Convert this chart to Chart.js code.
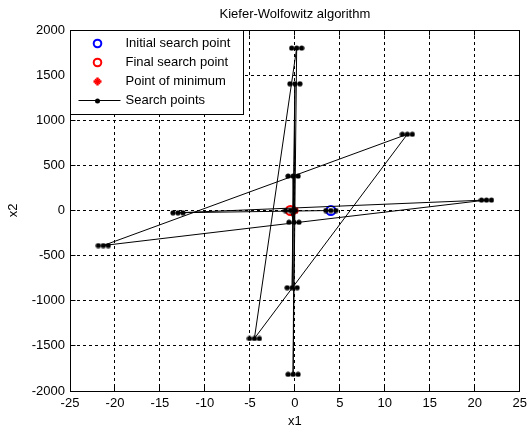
<!DOCTYPE html>
<html>
<head>
<meta charset="utf-8">
<title>Kiefer-Wolfowitz algorithm</title>
<script src="https://cdn.jsdelivr.net/npm/chart.js@4.4.1/dist/chart.umd.min.js"></script>
<style>
  body { margin: 0; background: #fff; }
</style>
</head>
<body>
<canvas id="myChart" width="532" height="426"></canvas>
<script>
'use strict';

// search path, one entry per iteration (x1, x2)
let searchX = [4.0, -13.0, 21.3, -21.3, 12.5, -4.5, 0.2, -0.2, 0.0, -0.3, -0.2, -0.1, -0.5];
let searchY = [0, -25, 116, -388, 845, -1418, 1800, -1815, 1405, -855, 382, -130, 0];
let initialPoint = [4.0, 0];
let finalPoint = [-0.5, 0];
let minimumPoint = [0, 0];
let xTicks = [-25, -20, -15, -10, -5, 0, 5, 10, 15, 20, 25];
let yTicks = [-2000, -1500, -1000, -500, 0, 500, 1000, 1500, 2000];
let legendNames = ['Initial search point', 'Final search point', 'Point of minimum', 'Search points'];
let titleText = 'Kiefer-Wolfowitz algorithm';

let fontFamily = '"Liberation Sans", Arial, sans-serif';
Chart.defaults.font.family = fontFamily;
Chart.defaults.font.size = 13;
Chart.defaults.color = '#000';

// three dots per search point, like the original plot
function makeDotsMarker() {
  let c = document.createElement('canvas');
  c.width = 16;
  c.height = 6;
  let g = c.getContext('2d');
  g.fillStyle = '#000';
  [3, 8, 13].forEach(function(cx) {
    g.beginPath();
    g.arc(cx, 3, 2.6, 0, Math.PI * 2);
    g.fill();
  });
  return c;
}
let dotsMarker = makeDotsMarker();

function px(v) {
  return Math.floor(v) + 0.5;
}

// title, box, inner ticks and the legend drawn matlab style
let matlabFrame = {
  id: 'matlabFrame',
  afterDatasetsDraw(chart) {
    let ctx = chart.ctx;
    let a = chart.chartArea;
    let xs = chart.scales.x;
    let ys = chart.scales.y;
    let l = px(a.left), r = px(a.right), t = px(a.top), b = px(a.bottom);

    ctx.save();
    ctx.strokeStyle = '#000';
    ctx.lineWidth = 1;
    ctx.setLineDash([]);

    // inner ticks
    ctx.beginPath();
    xs.ticks.forEach(function(tk) {
      let x = px(xs.getPixelForValue(tk.value));
      ctx.moveTo(x, b); ctx.lineTo(x, b - 5);
      ctx.moveTo(x, t); ctx.lineTo(x, t + 5);
    });
    ys.ticks.forEach(function(tk) {
      let y = px(ys.getPixelForValue(tk.value));
      ctx.moveTo(l, y); ctx.lineTo(l + 5, y);
      ctx.moveTo(r, y); ctx.lineTo(r - 5, y);
    });
    ctx.stroke();

    // box
    ctx.strokeRect(l, t, r - l, b - t);

    // legend
    let lw = 173, lh = 84;
    ctx.fillStyle = '#fff';
    ctx.fillRect(l, t, lw, lh);
    ctx.strokeRect(l, t, lw, lh);

    let mx = l + 27;
    let rows = [t + 13, t + 32, t + 51, t + 70];
    ctx.lineWidth = 2;
    ctx.strokeStyle = '#0000ff';
    ctx.beginPath();
    ctx.arc(mx, rows[0], 3.8, 0, Math.PI * 2);
    ctx.stroke();
    ctx.strokeStyle = '#ff0000';
    ctx.beginPath();
    ctx.arc(mx, rows[1], 3.8, 0, Math.PI * 2);
    ctx.stroke();
    ctx.lineWidth = 2.5;
    ctx.beginPath();
    ctx.moveTo(mx - 4, rows[2]); ctx.lineTo(mx + 4, rows[2]);
    ctx.moveTo(mx, rows[2] - 4); ctx.lineTo(mx, rows[2] + 4);
    ctx.stroke();
    ctx.lineWidth = 1.5;
    ctx.beginPath();
    ctx.moveTo(mx - 2.5, rows[2] - 2.5); ctx.lineTo(mx + 2.5, rows[2] + 2.5);
    ctx.moveTo(mx - 2.5, rows[2] + 2.5); ctx.lineTo(mx + 2.5, rows[2] - 2.5);
    ctx.stroke();
    ctx.lineWidth = 1;
    ctx.strokeStyle = '#000';
    ctx.beginPath();
    ctx.moveTo(l + 8, px(rows[3])); ctx.lineTo(l + 50, px(rows[3]));
    ctx.stroke();
    ctx.fillStyle = '#000';
    ctx.beginPath();
    ctx.arc(mx, rows[3] + 0.5, 2.5, 0, Math.PI * 2);
    ctx.fill();

    ctx.font = '13px ' + fontFamily;
    ctx.textAlign = 'left';
    ctx.textBaseline = 'middle';
    legendNames.forEach(function(name, i) {
      ctx.fillText(name, l + 55, rows[i]);
    });

    // title
    ctx.textAlign = 'center';
    ctx.textBaseline = 'alphabetic';
    ctx.fillText(titleText, (a.left + a.right) / 2, a.top - 12);
    ctx.restore();
  }
};

let searchData = searchX.map(function(x, i) {
  return {x: x, y: searchY[i]};
});

function plainLabel(value) {
  return String(value);
}

let ctx = document.getElementById('myChart');
let myChart = new Chart(ctx, {
  type: 'scatter',
  data: {
    datasets: [{
      label: legendNames[3],
      data: searchData,
      showLine: true,
      borderColor: '#000',
      borderWidth: 1,
      pointStyle: dotsMarker,
      pointRadius: 3,
      tension: 0
    },
    {
      label: legendNames[0],
      data: [{x: initialPoint[0], y: initialPoint[1]}],
      pointStyle: 'circle',
      pointRadius: 4.5,
      borderWidth: 2,
      borderColor: '#0000ff',
      backgroundColor: 'rgba(0,0,0,0)'
    },
    {
      label: legendNames[1],
      data: [{x: finalPoint[0], y: finalPoint[1]}],
      pointStyle: 'circle',
      pointRadius: 4.5,
      borderWidth: 2,
      borderColor: '#ff0000',
      backgroundColor: 'rgba(0,0,0,0)'
    },
    {
      label: legendNames[2],
      data: [{x: minimumPoint[0], y: minimumPoint[1]}],
      pointStyle: 'star',
      pointRadius: 4,
      borderWidth: 2,
      borderColor: '#ff0000',
      backgroundColor: '#ff0000'
    }]
  },
  options: {
    responsive: false,
    animation: false,
    devicePixelRatio: 1,
    layout: {
      padding: {left: 0, top: 30, right: 5, bottom: 0}
    },
    plugins: {
      legend: {display: false},
      tooltip: {enabled: false},
      title: {display: false}
    },
    scales: {
      x: {
        type: 'linear',
        min: xTicks[0],
        max: xTicks[xTicks.length - 1],
        ticks: {
          stepSize: xTicks[1] - xTicks[0],
          padding: 5,
          maxRotation: 0,
          callback: plainLabel,
          font: {size: 13}
        },
        grid: {color: '#000', lineWidth: 1, drawTicks: false},
        border: {display: true, color: '#000', width: 1, dash: [3, 3]},
        title: {display: true, text: 'x1', padding: {top: 0, bottom: -3}, font: {size: 13}},
        afterFit: function(scale) {
          scale.height = 35;
        }
      },
      y: {
        type: 'linear',
        min: yTicks[0],
        max: yTicks[yTicks.length - 1],
        ticks: {
          stepSize: yTicks[1] - yTicks[0],
          padding: 5,
          callback: plainLabel,
          font: {size: 13}
        },
        grid: {color: '#000', lineWidth: 1, drawTicks: false},
        border: {display: true, color: '#000', width: 1, dash: [3, 3]},
        title: {display: true, text: 'x2', padding: {top: 6, bottom: 0}, font: {size: 13}},
        afterFit: function(scale) {
          scale.width = 70;
        }
      }
    }
  },
  plugins: [matlabFrame]
});
</script>
</body>
</html>
